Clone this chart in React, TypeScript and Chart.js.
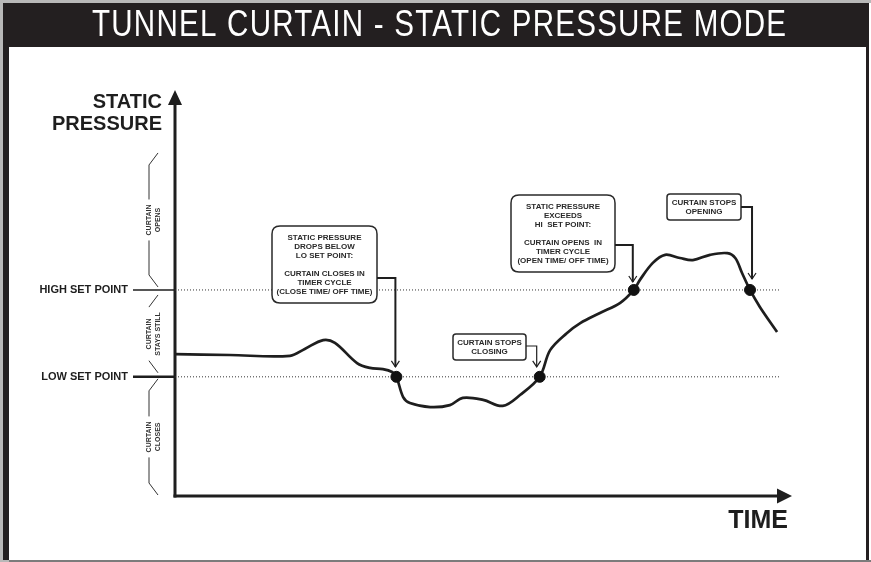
import React, { useEffect, useRef } from 'react';
import { Chart, registerables } from 'chart.js';

Chart.register(...registerables);

// ---------- data ----------
const TITLE = 'TUNNEL CURTAIN - STATIC PRESSURE MODE';
const Y_AXIS_LABEL = ['STATIC', 'PRESSURE'];
const X_AXIS_LABEL = 'TIME';

const HIGH_SET_POINT = 51;
const LOW_SET_POINT = 29.5;
const SET_POINT_LABELS = ['HIGH SET POINT', 'LOW SET POINT'];

const TIME_VALUES = [
  0, 8.9, 18.7, 21.1, 24.1, 26.0, 29.6, 31.7, 33.8, 35.3, 36.0, 37.1, 38.2, 41.5, 44.7, 46.8,
  50.1, 53.3, 56.1, 59.3, 61.0, 63.7, 65.9, 69.1, 72.4, 74.6, 75.6, 77.7, 79.7, 82.1, 84.2,
  87.0, 89.8, 91.1, 92.2, 93.5, 95.1, 97.9,
];
const PRESSURE_VALUES = [
  35.1, 34.9, 34.7, 36.4, 38.6, 37.9, 32.9, 31.7, 31.4, 30.7, 29.5, 24.5, 23.0, 22.0, 22.5, 24.3,
  23.8, 22.3, 25.0, 29.5, 36.1, 40.3, 42.8, 45.3, 47.8, 51.0, 53.5, 57.7, 59.7, 58.9, 58.4,
  59.7, 60.1, 58.9, 55.2, 51.0, 46.8, 40.6,
];

const EVENT_TIMES = [36.0, 59.3, 74.6, 93.5];
const EVENT_PRESSURES = [LOW_SET_POINT, LOW_SET_POINT, HIGH_SET_POINT, HIGH_SET_POINT];

const SET_POINT_LINE_END = 98.5;

const ZONE_LABELS = [
  ['CURTAIN', 'OPENS'],
  ['CURTAIN', 'STAYS STILL'],
  ['CURTAIN', 'CLOSES'],
];

const CALLOUT_TEXTS = [
  ['STATIC PRESSURE', 'DROPS BELOW', 'LO SET POINT:', '', 'CURTAIN CLOSES IN', 'TIMER CYCLE', '(CLOSE TIME/ OFF TIME)'],
  ['STATIC PRESSURE', 'EXCEEDS', 'HI  SET POINT:', '', 'CURTAIN OPENS  IN', 'TIMER CYCLE', '(OPEN TIME/ OFF TIME)'],
  ['CURTAIN STOPS', 'CLOSING'],
  ['CURTAIN STOPS', 'OPENING'],
];

// ---------- layout (pixels) ----------
const W = 871;
const H = 562;
const CALLOUT_LAYOUT = [
  { x: 272, y: 226, w: 105, h: 77, r: 8, lineY: 278, event: 0, dx: -1, gap: 10, lw: 2 },
  { x: 511, y: 195, w: 104, h: 77, r: 8, lineY: 245, event: 2, dx: -1, gap: 8, lw: 2 },
  { x: 453, y: 334, w: 73, h: 26, r: 3, lineY: 346, event: 1, dx: -3, gap: 10, lw: 1.2 },
  { x: 667, y: 194, w: 74, h: 26, r: 3, lineY: 207, event: 3, dx: 2, gap: 11, lw: 2 },
];

const FONT = '"Liberation Sans", Arial, sans-serif';
const INK = '#1e1e1e';

function roundRect(ctx: CanvasRenderingContext2D, x: number, y: number, w: number, h: number, r: number) {
  ctx.beginPath();
  ctx.moveTo(x + r, y);
  ctx.lineTo(x + w - r, y);
  ctx.quadraticCurveTo(x + w, y, x + w, y + r);
  ctx.lineTo(x + w, y + h - r);
  ctx.quadraticCurveTo(x + w, y + h, x + w - r, y + h);
  ctx.lineTo(x + r, y + h);
  ctx.quadraticCurveTo(x, y + h, x, y + h - r);
  ctx.lineTo(x, y + r);
  ctx.quadraticCurveTo(x, y, x + r, y);
  ctx.closePath();
}

const framePlugin = {
  id: 'frame',
  beforeDraw(chart: any) {
    const ctx: CanvasRenderingContext2D = chart.ctx;
    ctx.save();
    ctx.fillStyle = '#b8b8b8';
    ctx.fillRect(0, 0, W, H);
    ctx.fillStyle = '#231f20';
    ctx.fillRect(3, 3, 866, 557);
    ctx.fillStyle = '#ffffff';
    ctx.fillRect(9, 47, 857, 513);
    ctx.fillStyle = '#7c7c7c';
    ctx.fillRect(9, 560, 862, 2);
    ctx.fillStyle = '#ffffff';
    ctx.fillRect(869, 3, 2, 557);

    // title (condensed look)
    ctx.font = `normal 36px ${FONT}`;
    (ctx as any).letterSpacing = '1.5px';
    const tw = ctx.measureText(TITLE).width - 1.5;
    const target = 694;
    ctx.translate(92, 36);
    ctx.scale(target / tw, 1);
    ctx.fillStyle = '#ffffff';
    ctx.textAlign = 'left';
    ctx.textBaseline = 'alphabetic';
    ctx.fillText(TITLE, 0, 0);
    (ctx as any).letterSpacing = '0px';
    ctx.restore();
  },
};

const axesPlugin = {
  id: 'axesDiagram',
  beforeDatasetsDraw(chart: any) {
    const ctx: CanvasRenderingContext2D = chart.ctx;
    const { left, right, top, bottom } = chart.chartArea;
    ctx.save();
    ctx.strokeStyle = INK;
    ctx.fillStyle = INK;
    ctx.lineWidth = 3;
    // y axis
    ctx.beginPath();
    ctx.moveTo(left, top + 12);
    ctx.lineTo(left, bottom + 1.5);
    ctx.stroke();
    ctx.beginPath();
    ctx.moveTo(left, top - 2);
    ctx.lineTo(left - 7, top + 13);
    ctx.lineTo(left + 7, top + 13);
    ctx.closePath();
    ctx.fill();
    // x axis
    ctx.beginPath();
    ctx.moveTo(left - 1.5, bottom);
    ctx.lineTo(right - 12, bottom);
    ctx.stroke();
    ctx.beginPath();
    ctx.moveTo(right + 2, bottom);
    ctx.lineTo(right - 13, bottom - 7.5);
    ctx.lineTo(right - 13, bottom + 7.5);
    ctx.closePath();
    ctx.fill();

    // axis titles
    ctx.font = `bold 20px ${FONT}`;
    ctx.textAlign = 'right';
    ctx.textBaseline = 'middle';
    ctx.fillText(Y_AXIS_LABEL[0], left - 13, 102);
    ctx.fillText(Y_AXIS_LABEL[1], left - 13, 124);
    ctx.font = `bold 25px ${FONT}`;
    ctx.fillText(X_AXIS_LABEL, right - 2, bottom + 25);

    // set point ticks and labels
    const ys = chart.scales.y;
    const yHigh = ys.getPixelForValue(HIGH_SET_POINT);
    const yLow = ys.getPixelForValue(LOW_SET_POINT);
    ctx.font = `bold 11px ${FONT}`;
    ctx.textAlign = 'right';
    [
      [yHigh, 1.5, SET_POINT_LABELS[0]],
      [yLow, 2.5, SET_POINT_LABELS[1]],
    ].forEach(([py, lw, label]: any) => {
      ctx.lineWidth = lw;
      ctx.beginPath();
      ctx.moveTo(133, py);
      ctx.lineTo(left, py);
      ctx.stroke();
      ctx.fillText(label, 128, py + 0.5);
    });

    // zone brackets
    const zones = [
      [yHigh - 137, yHigh - 3],
      [yHigh + 5, yLow - 4],
      [yLow + 2, bottom - 1],
    ];
    const xLine = 149;
    const xTip = 158;
    ctx.lineWidth = 1;
    ctx.strokeStyle = '#333';
    ctx.font = `bold 7px ${FONT}`;
    ctx.textAlign = 'center';
    zones.forEach(([y0, y1], i) => {
      const lines = ZONE_LABELS[i];
      const tl = Math.max(...lines.map((l) => ctx.measureText(l).width));
      const mid = (y0 + y1) / 2;
      const diag = Math.min(12, (y1 - y0) / 6);
      const g0 = mid - tl / 2 - 5;
      const g1 = mid + tl / 2 + 5;
      ctx.beginPath();
      ctx.moveTo(xTip, y0);
      ctx.lineTo(xLine, y0 + diag);
      ctx.lineTo(xLine, Math.max(y0 + diag, g0));
      ctx.moveTo(xLine, Math.min(y1 - diag, g1));
      ctx.lineTo(xLine, y1 - diag);
      ctx.lineTo(xTip, y1);
      ctx.stroke();
      ctx.save();
      ctx.translate(xLine + 5, mid);
      ctx.rotate(-Math.PI / 2);
      ctx.fillStyle = '#333';
      ctx.textBaseline = 'middle';
      ctx.fillText(lines[0], 0, -4.5);
      ctx.fillText(lines[1], 0, 4.5);
      ctx.restore();
    });
    ctx.restore();
  },
  afterDatasetsDraw(chart: any) {
    const ctx: CanvasRenderingContext2D = chart.ctx;
    const xs = chart.scales.x;
    const ys = chart.scales.y;
    ctx.save();
    CALLOUT_LAYOUT.forEach((c, i) => {
      const tipX = xs.getPixelForValue(EVENT_TIMES[c.event]) + c.dx;
      const tipY = ys.getPixelForValue(EVENT_PRESSURES[c.event]) - c.gap;
      ctx.strokeStyle = '#2a2a2a';
      ctx.lineWidth = 1.5;
      roundRect(ctx, c.x, c.y, c.w, c.h, c.r);
      ctx.fillStyle = '#ffffff';
      ctx.fill();
      ctx.stroke();
      const lines = CALLOUT_TEXTS[i];
      const lh = 9;
      const cy = c.y + c.h / 2 - ((lines.length - 1) * lh) / 2;
      ctx.fillStyle = '#2a2a2a';
      ctx.font = `bold 8px ${FONT}`;
      ctx.textAlign = 'center';
      ctx.textBaseline = 'middle';
      lines.forEach((l, k) => ctx.fillText(l, c.x + c.w / 2, cy + k * lh));
      ctx.strokeStyle = INK;
      ctx.lineWidth = c.lw;
      ctx.beginPath();
      ctx.moveTo(c.x + c.w, c.lineY);
      ctx.lineTo(tipX, c.lineY);
      ctx.lineTo(tipX, tipY);
      ctx.stroke();
      ctx.lineWidth = 1.2;
      ctx.beginPath();
      ctx.moveTo(tipX - 4, tipY - 6);
      ctx.lineTo(tipX, tipY);
      ctx.lineTo(tipX + 4, tipY - 6);
      ctx.stroke();
    });
    ctx.restore();
  },
};

export default function App() {
  const ref = useRef<HTMLCanvasElement | null>(null);
  useEffect(() => {
    if (!ref.current) return;
    const chart = new Chart(ref.current, {
      type: 'line',
      data: {
        datasets: [
          {
            label: 'Static pressure',
            data: TIME_VALUES.map((t, i) => ({ x: t, y: PRESSURE_VALUES[i] })),
            borderColor: INK,
            borderWidth: 2.7,
            pointRadius: 0,
            tension: 0.35,
            fill: false,
            order: 2,
          },
          {
            label: 'High set point',
            data: [
              { x: 0, y: HIGH_SET_POINT },
              { x: SET_POINT_LINE_END, y: HIGH_SET_POINT },
            ],
            borderColor: '#333',
            borderWidth: 1,
            borderDash: [1, 2],
            pointRadius: 0,
            order: 3,
          },
          {
            label: 'Low set point',
            data: [
              { x: 0, y: LOW_SET_POINT },
              { x: SET_POINT_LINE_END, y: LOW_SET_POINT },
            ],
            borderColor: '#333',
            borderWidth: 1,
            borderDash: [1, 2],
            pointRadius: 0,
            order: 3,
          },
          {
            type: 'scatter',
            label: 'Events',
            data: EVENT_TIMES.map((t, i) => ({ x: t, y: EVENT_PRESSURES[i] })),
            backgroundColor: '#111',
            borderColor: '#111',
            pointRadius: 5.5,
            order: 1,
          },
        ] as any,
      },
      options: {
        animation: false,
        responsive: false,
        events: [],
        layout: { padding: { left: 175, right: 81, top: 92, bottom: 66 } },
        scales: {
          x: { type: 'linear', min: 0, max: 100, display: false },
          y: { type: 'linear', min: 0, max: 100, display: false },
        },
        plugins: {
          legend: { display: false },
          title: { display: false },
          tooltip: { enabled: false },
        },
      },
      plugins: [framePlugin, axesPlugin],
    });
    return () => chart.destroy();
  }, []);
  return (
    <div style={{ position: 'absolute', left: 0, top: 0, width: W, height: H }}>
      <canvas ref={ref} width={W} height={H} style={{ display: 'block', width: W, height: H }} />
    </div>
  );
}
